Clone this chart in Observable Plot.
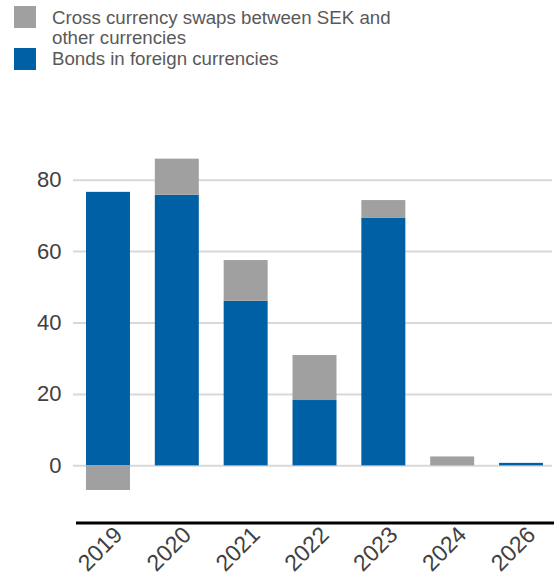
<!DOCTYPE html>
<html>
<head>
<meta charset="utf-8">
<script src="https://cdn.jsdelivr.net/npm/d3@7"></script>
<script src="https://cdn.jsdelivr.net/npm/@observablehq/plot@0.6"></script>
<style>
  html, body { margin: 0; padding: 0; background: #fff; }
  #wrap { position: relative; width: 554px; height: 577px; font-family: "Liberation Sans", Arial, sans-serif; }
  #legend { position: absolute; left: 0; top: 0; width: 554px; height: 80px; z-index: 2; }
  .sw { position: absolute; left: 14px; width: 22px; height: 22px; }
  .lt { position: absolute; left: 52px; font-size: 18.7px; line-height: 19.4px; color: #595959; white-space: nowrap; }
  #chart { position: absolute; left: 0; top: 0; }
</style>
</head>
<body>
<div id="wrap">
  <div id="legend"></div>
  <div id="chart"></div>
</div>
<script>
const years = ["2019", "2020", "2021", "2022", "2023", "2024", "2026"];
const seriesNames = ["Bonds in foreign currencies", "Cross currency swaps between SEK and other currencies"];
const bonds = [76.6, 75.8, 46.1, 18.3, 69.3, 0, 0.7];
const swaps = [-6.9, 10.1, 11.4, 12.6, 5.0, 2.5, 0];
const yTicks = [0, 20, 40, 60, 80];
const colors = ["#0060a6", "#a0a0a0"];

const data = [];
years.forEach((y, i) => {
  data.push({year: y, series: seriesNames[0], value: bonds[i]});
  data.push({year: y, series: seriesNames[1], value: swaps[i]});
});

// Legend (HTML above the SVG)
const legend = document.getElementById("legend");
legend.innerHTML = `
  <div class="sw" style="top:6px;background:${colors[1]}"></div>
  <div class="lt" style="top:8px">Cross currency swaps between SEK and</div>
  <div class="lt" style="top:27.5px">other currencies</div>
  <div class="sw" style="top:48px;background:${colors[0]}"></div>
  <div class="lt" style="top:49.2px">Bonds in foreign currencies</div>`;

const chart = Plot.plot({
  width: 554,
  height: 577,
  marginTop: 144,
  marginBottom: 54.5,
  marginLeft: 76,
  marginRight: 1,
  style: {fontFamily: "'Liberation Sans', Arial, sans-serif", background: "transparent"},
  x: {domain: years, paddingInner: 0.361, paddingOuter: 0.145, round: false, axis: null, label: null},
  y: {domain: [-16, 90], label: null, axis: null},
  color: {domain: seriesNames, range: colors},
  marks: [
    Plot.ruleY(yTicks, {stroke: "#d9d9d9", strokeWidth: 2, insetLeft: -3, insetRight: 1}),
    Plot.barY(data, {x: "year", y: "value", fill: "series"}),
    Plot.ruleY([-16], {stroke: "#000", strokeWidth: 3, insetRight: -1}),
    Plot.axisY({ticks: yTicks, tickSize: 0, tickPadding: 15, fontSize: 22, color: "#404040", label: null}),
    Plot.text(years, {x: d => d, text: d => d, frameAnchor: "bottom", rotate: -45, textAnchor: "end", lineAnchor: "middle", dx: 10, dy: 8, fontSize: 23, fill: "#404040"})
  ]
});
document.getElementById("chart").appendChild(chart);
</script>
</body>
</html>
